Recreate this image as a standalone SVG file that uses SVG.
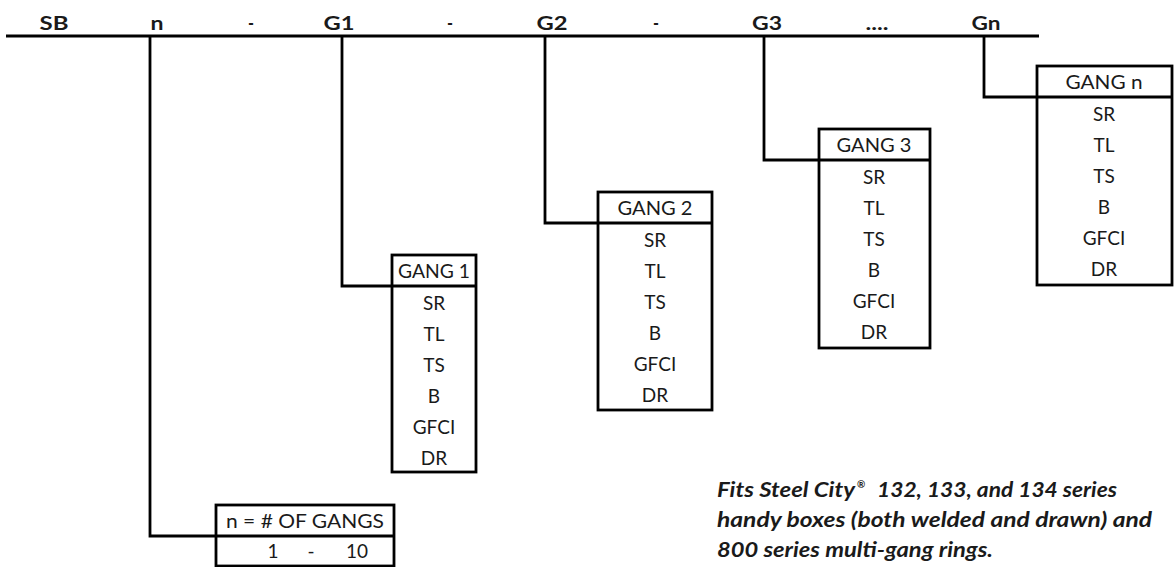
<svg xmlns="http://www.w3.org/2000/svg" width="1174" height="567" viewBox="0 0 1174 567">
<style>
text{font-family:Lato,"Open Sans","Liberation Sans",sans-serif;fill:#1a1a1a}
.top{font-size:19px;font-weight:bold;text-anchor:middle}
.cell{font-size:19px;text-anchor:middle}
.box{fill:#fff;stroke:#000;stroke-width:2.8}
.div{stroke:#000;stroke-width:2.8}
.conn{fill:none;stroke:#000;stroke-width:2.8}
.note{font-size:20px;font-weight:bold;font-style:italic}
.sup{font-size:10px;font-weight:bold}
</style>
<rect width="1174" height="567" fill="#fff"/>
<g id="header">
<line x1="6" y1="36" x2="1039" y2="36" stroke="#000" stroke-width="3"/>
<text class="top" x="54" y="30" textLength="29" lengthAdjust="spacingAndGlyphs">SB</text>
<text class="top" x="157" y="30" textLength="13" lengthAdjust="spacingAndGlyphs">n</text>
<text class="top" x="251" y="30" textLength="6" lengthAdjust="spacingAndGlyphs">-</text>
<text class="top" x="339" y="30" textLength="31" lengthAdjust="spacingAndGlyphs">G1</text>
<text class="top" x="450" y="30" textLength="6" lengthAdjust="spacingAndGlyphs">-</text>
<text class="top" x="552" y="30" textLength="31" lengthAdjust="spacingAndGlyphs">G2</text>
<text class="top" x="656" y="30" textLength="6" lengthAdjust="spacingAndGlyphs">-</text>
<text class="top" x="767" y="30" textLength="30" lengthAdjust="spacingAndGlyphs">G3</text>
<text class="top" x="877" y="30" textLength="23" lengthAdjust="spacingAndGlyphs">....</text>
<text class="top" x="986" y="30" textLength="29" lengthAdjust="spacingAndGlyphs">Gn</text>
</g>
<g id="connectors">
<path class="conn" d="M150 36 V536 H216"/>
<path class="conn" d="M342 36 V286 H392"/>
<path class="conn" d="M545 36 V223 H598"/>
<path class="conn" d="M764 36 V160 H819"/>
<path class="conn" d="M984 36 V97 H1037"/>
</g>
<g id="gang1">
<rect class="box" x="392" y="255" width="84" height="217"/>
<line class="div" x1="392" y1="286" x2="476" y2="286"/>
<text class="cell" x="434" y="278" textLength="72" lengthAdjust="spacingAndGlyphs">GANG 1</text>
<text class="cell" x="434" y="310">SR</text>
<text class="cell" x="434" y="341">TL</text>
<text class="cell" x="434" y="372">TS</text>
<text class="cell" x="434" y="403">B</text>
<text class="cell" x="434" y="434">GFCI</text>
<text class="cell" x="434" y="465">DR</text>
</g>
<g id="gang2">
<rect class="box" x="598" y="192" width="114" height="218"/>
<line class="div" x1="598" y1="223" x2="712" y2="223"/>
<text class="cell" x="655" y="215" textLength="75" lengthAdjust="spacingAndGlyphs">GANG 2</text>
<text class="cell" x="655" y="247">SR</text>
<text class="cell" x="655" y="278">TL</text>
<text class="cell" x="655" y="309">TS</text>
<text class="cell" x="655" y="340">B</text>
<text class="cell" x="655" y="371">GFCI</text>
<text class="cell" x="655" y="402">DR</text>
</g>
<g id="gang3">
<rect class="box" x="819" y="129" width="111" height="219"/>
<line class="div" x1="819" y1="160" x2="930" y2="160"/>
<text class="cell" x="874" y="152" textLength="75" lengthAdjust="spacingAndGlyphs">GANG 3</text>
<text class="cell" x="874" y="184">SR</text>
<text class="cell" x="874" y="215">TL</text>
<text class="cell" x="874" y="246">TS</text>
<text class="cell" x="874" y="277">B</text>
<text class="cell" x="874" y="308">GFCI</text>
<text class="cell" x="874" y="339">DR</text>
</g>
<g id="gangn">
<rect class="box" x="1037" y="66" width="135" height="219"/>
<line class="div" x1="1037" y1="97" x2="1172" y2="97"/>
<text class="cell" x="1104" y="89" textLength="77" lengthAdjust="spacingAndGlyphs">GANG n</text>
<text class="cell" x="1104" y="121">SR</text>
<text class="cell" x="1104" y="152">TL</text>
<text class="cell" x="1104" y="183">TS</text>
<text class="cell" x="1104" y="214">B</text>
<text class="cell" x="1104" y="245">GFCI</text>
<text class="cell" x="1104" y="276">DR</text>
</g>
<g id="gangcount">
<rect class="box" x="216" y="505" width="178" height="61"/>
<line class="div" x1="216" y1="536" x2="394" y2="536"/>
<text class="cell" x="305" y="528" textLength="158" lengthAdjust="spacingAndGlyphs">n = # OF GANGS</text>
<text class="cell" y="558"><tspan x="273">1</tspan><tspan x="311">-</tspan><tspan x="357">10</tspan></text>
</g>
<g id="note">
<text class="note" x="717" y="497" textLength="138" lengthAdjust="spacingAndGlyphs">Fits Steel City</text>
<text class="sup" x="857" y="488">®</text>
<text class="note" x="877" y="497" textLength="240" lengthAdjust="spacingAndGlyphs">132, 133, and 134 series</text>
<text class="note" x="717" y="527" textLength="435" lengthAdjust="spacingAndGlyphs">handy boxes (both welded and drawn) and</text>
<text class="note" x="717" y="557" textLength="276" lengthAdjust="spacingAndGlyphs">800 series multi-gang rings.</text>
</g>
</svg>
